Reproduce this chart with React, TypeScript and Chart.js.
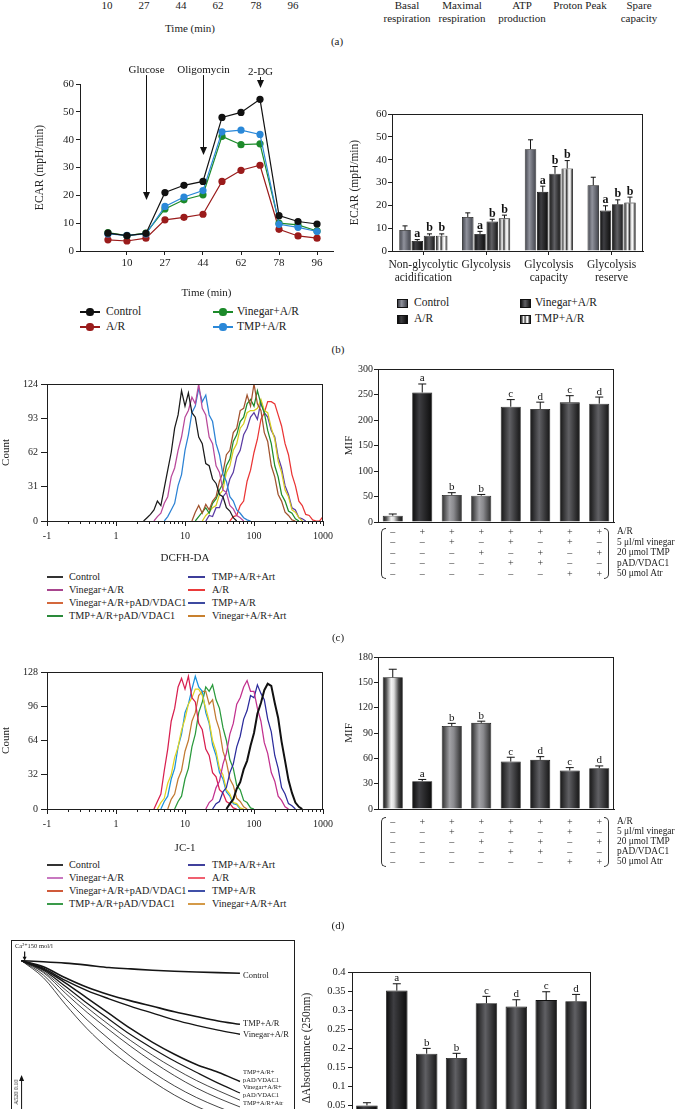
import React, { useEffect, useRef } from 'react';
import { Chart, registerables } from 'chart.js';
Chart.register(...registerables);

const FONT = "'Liberation Serif', 'DejaVu Serif', 'Times New Roman', serif";
const INK = '#1e1e1e';

// ---------- (a) cropped axis labels ----------
const A_TIME_TICKS = ['10', '27', '44', '62', '78', '96'];
const A_RESP_CATS = [['Basal', 'respiration'], ['Maximal', 'respiration'], ['ATP', 'production'], ['Proton Peak'], ['Spare', 'capacity']];

// ---------- (b) ECAR time course ----------
const ECAR_INDEX = [1, 2, 3, 4, 5, 6, 7, 8, 9, 10, 11, 12];
const ECAR_TICK_LABELS = ['10', '27', '44', '62', '78', '96'];
const ECAR_CONTROL = [6.4, 5.5, 6.3, 21.0, 23.6, 25.0, 48.0, 49.8, 54.5, 12.7, 10.6, 9.7];
const ECAR_AR = [4.0, 3.6, 4.6, 11.2, 12.1, 13.2, 25.0, 29.0, 30.8, 7.8, 5.4, 4.6];
const ECAR_VINEGAR = [6.6, 5.5, 6.4, 15.1, 18.4, 20.2, 41.2, 38.2, 38.5, 10.0, 9.4, 7.2];
const ECAR_TMP = [6.1, 5.6, 6.1, 16.0, 19.4, 21.7, 42.8, 43.4, 41.9, 9.6, 8.5, 7.0];
const INJ_LABELS = ['Glucose', 'Oligomycin', '2-DG'];
const INJ_AT = [3, 6, 9];
const INJ_TIP = [18.3, 34.5, 58.6];
const INJ_TOP = [63.2, 63.2, 62.5];

// ---------- (b) glycolysis bars ----------
const GLY_CATS = [['Non-glycolytic', 'acidification'], ['Glycolysis'], ['Glycolysis', 'capacity'], ['Glycolysis', 'reserve']];
const GLY_CONTROL = [9.2, 14.9, 44.6, 28.8];
const GLY_CONTROL_ERR = [11.0, 16.7, 48.7, 32.3];
const GLY_AR = [4.4, 7.5, 25.9, 17.7];
const GLY_AR_ERR = [5.0, 8.6, 28.4, 19.8];
const GLY_VIN = [6.7, 12.9, 33.8, 20.5];
const GLY_VIN_ERR = [7.5, 13.9, 37.0, 22.4];
const GLY_TMP = [6.7, 14.3, 36.1, 21.2];
const GLY_TMP_ERR = [7.5, 15.7, 39.6, 23.6];

// ---------- flow cytometry histograms ----------
const LOG_BINS = [2.51, 2.82, 3.16, 3.55, 3.98, 4.47, 5.01, 5.62, 6.31, 7.08, 7.94, 8.91, 10, 11.2, 12.6, 14.1, 15.8, 17.8, 20.0, 22.4, 25.1, 28.2, 31.6, 35.5, 39.8, 44.7, 50.1, 56.2, 63.1, 70.8, 79.4, 89.1, 100, 112, 126, 141, 158, 178, 200, 224, 251, 282, 316, 355, 398, 447, 501, 562, 631, 708, 794, 891, 1000];
const LOG_TICK_LABELS = ['-1', '1', '10', '100', '1000'];

const C_CONTROL = [0, 3, 6, 10, 18, 14, 30, 46, 62, 84, 96, 118, 104, 116, 98, 94, 76, 70, 52, 50, 38, 34, 24, 22, 12, 9, 3, 0];
const C_VIN = [0, 4, 7, 16, 22, 40, 48, 64, 76, 94, 100, 112, 106, 124, 102, 96, 76, 70, 50, 44, 28, 26, 14, 11, 5, 3, 0];
const C_TMP = [0, 4, 10, 16, 32, 42, 64, 78, 98, 104, 120, 108, 114, 96, 90, 70, 60, 42, 36, 22, 18, 10, 7, 3, 1, 0];
const C_VIN_PAD = [0, 8, 14, 7, 15, 10, 18, 22, 36, 44, 60, 64, 80, 84, 100, 102, 114, 104, 124, 106, 100, 80, 72, 50, 40, 24, 18, 8, 5, 1, 0];
const C_TMP_PAD = [0, 4, 8, 12, 7, 16, 20, 28, 34, 50, 56, 72, 78, 90, 94, 106, 110, 104, 118, 106, 98, 82, 70, 50, 40, 24, 18, 9, 7, 2, 0];
const C_VIN_ART = [0, 5, 8, 12, 14, 24, 28, 44, 50, 64, 70, 84, 88, 98, 100, 100, 102, 110, 100, 98, 84, 74, 54, 44, 28, 22, 10, 8, 3, 0];
const C_TMP_ART = [0, 5, 4, 12, 12, 22, 26, 38, 44, 58, 64, 78, 84, 94, 98, 92, 108, 98, 94, 82, 76, 58, 48, 32, 24, 12, 10, 3, 2, 0];
const C_AR = [0, 4, 5, 14, 18, 36, 46, 62, 74, 92, 98, 108, 108, 106, 96, 86, 70, 60, 42, 32, 18, 14, 6, 5, 1, 0, 0, 4];
const C_COUNTS = [C_CONTROL, C_VIN, C_TMP, C_VIN_PAD, C_TMP_PAD, C_VIN_ART, C_TMP_ART, C_AR];
const C_START_BIN = [0, 3, 6, 14, 15, 17, 18, 25];
const C_COLORS = ['#1a1a1a', '#b8489a', '#2c82d4', '#a0522d', '#1f8c2c', '#d6cc1e', '#5b3ca4', '#ea3535'];

const D_CONTROL = [0, 5, 9, 19, 25, 37, 45, 59, 71, 89, 99, 111, 117, 115, 99, 85, 63, 45, 27, 15, 6, 2, 0];
const D_VIN = [0, 6, 9, 20, 26, 42, 52, 70, 80, 98, 104, 114, 120, 110, 110, 94, 82, 62, 52, 34, 26, 12, 8, 2, 0];
const D_TMP = [0, 5, 7, 16, 20, 34, 42, 58, 68, 84, 92, 106, 104, 116, 108, 102, 84, 72, 50, 38, 20, 14, 5, 3, 0];
const D_AR = [0, 7, 14, 36, 56, 82, 94, 114, 122, 112, 124, 104, 100, 80, 74, 56, 50, 34, 30, 18, 15, 7, 5, 1, 0];
const D_VIN_ART = [0, 6, 10, 24, 32, 48, 58, 74, 84, 98, 104, 112, 112, 106, 94, 82, 64, 54, 38, 32, 18, 14, 6, 5, 1, 0];
const D_TMP_ART = [0, 7, 12, 28, 38, 58, 70, 90, 98, 112, 124, 114, 110, 90, 80, 60, 50, 34, 28, 16, 12, 5, 4, 0];
const D_VIN_PAD = [0, 9, 14, 28, 36, 54, 64, 82, 90, 106, 110, 110, 98, 102, 84, 74, 54, 44, 28, 22, 10, 7, 2, 0];
const D_TMP_PAD = [0, 7, 12, 28, 38, 58, 70, 90, 100, 114, 110, 116, 102, 94, 76, 64, 46, 38, 22, 18, 8, 6, 1, 0];
const D_COUNTS = [D_CONTROL, D_VIN, D_TMP, D_AR, D_VIN_ART, D_TMP_ART, D_VIN_PAD, D_TMP_PAD];
const D_START_BIN = [24, 18, 20, 3, 4, 5, 7, 9];
const D_COLORS = ['#111111', '#c2308e', '#2b2b9c', '#d81f4f', '#e2d420', '#1a92dc', '#c27a32', '#2a9a3c'];

const LEGEND_COL1 = ['Control', 'Vinegar+A/R', 'Vinegar+A/R+pAD/VDAC1', 'TMP+A/R+pAD/VDAC1'];
const LEGEND_COL2 = ['TMP+A/R+Art', 'A/R', 'TMP+A/R', 'Vinegar+A/R+Art'];
const C_KEY1 = ['#333', '#a8458e', '#d4683c', '#2a8a3a'];
const C_KEY2 = ['#3d3d9a', '#ea3a3a', '#3d4aa0', '#c8802e'];
const D_KEY1 = ['#333', '#c878c0', '#d05a3a', '#3a9a4a'];
const D_KEY2 = ['#40409c', '#f06070', '#4050a8', '#d49a48'];

// ---------- treatment table ----------
const TR_AR = ['–', '+', '+', '+', '+', '+', '+', '+'];
const TR_VIN = ['–', '–', '+', '–', '+', '–', '+', '–'];
const TR_TMP = ['–', '–', '–', '+', '–', '+', '–', '+'];
const TR_PAD = ['–', '–', '–', '–', '+', '+', '–', '–'];
const TR_ATR = ['–', '–', '–', '–', '–', '–', '+', '+'];
const TR_ROWS = ['A/R', '5 μl/ml vinegar', '20 μmol TMP', 'pAD/VDAC1', '50 μmol Atr'];
const LETTERS8 = ['', 'a', 'b', 'b', 'c', 'd', 'c', 'd'];

const ROS_MIF = [12.4, 254, 53, 51.6, 226, 221.6, 234.6, 232];
const ROS_ERR = [15.7, 270.6, 57.5, 54, 240, 235, 247.7, 245];
const JC1_MIF = [156, 33, 98.3, 102, 56.2, 58.2, 45.6, 48.3];
const JC1_ERR = [165.5, 35, 101.4, 104, 61.3, 62, 49, 51];
const SWELL = [0.049, 0.351, 0.185, 0.174, 0.318, 0.309, 0.326, 0.323];
const SWELL_ERR = [0.056, 0.369, 0.199, 0.186, 0.336, 0.327, 0.348, 0.341];

// ---------- (e) swelling traces ----------
const TRACE_TIME = [0, 10, 20, 30, 40, 50, 60, 70, 80, 90, 100];
const TRACE_CONTROL = [1.0, 0.997, 0.993, 0.987, 0.98, 0.976, 0.972, 0.969, 0.967, 0.965, 0.963];
const TRACE_TMP = [1.0, 0.982, 0.95, 0.922, 0.9, 0.882, 0.866, 0.85, 0.836, 0.823, 0.813];
const TRACE_VIN = [1.0, 0.978, 0.942, 0.912, 0.888, 0.866, 0.846, 0.826, 0.81, 0.796, 0.784];
const TRACE_TMP_PAD = [1.0, 0.975, 0.935, 0.89, 0.845, 0.8, 0.76, 0.725, 0.695, 0.672, 0.645];
const TRACE_VIN_PAD = [1.0, 0.972, 0.925, 0.875, 0.828, 0.782, 0.742, 0.705, 0.672, 0.64, 0.611];
const TRACE_TMP_ATR = [1.0, 0.968, 0.915, 0.862, 0.812, 0.765, 0.722, 0.683, 0.648, 0.618, 0.59];
const TRACE_VIN_ATR = [1.0, 0.965, 0.905, 0.848, 0.797, 0.748, 0.703, 0.662, 0.626, 0.596, 0.57];
const TRACE_AR = [1.0, 0.958, 0.89, 0.826, 0.77, 0.718, 0.672, 0.632, 0.598, 0.57, 0.545];
const TRACE_X6 = [1.0, 0.95, 0.872, 0.8, 0.74, 0.69, 0.645, 0.605, 0.572, 0.545, 0.52];
const TRACE_SETS = [TRACE_CONTROL, TRACE_TMP, TRACE_VIN, TRACE_TMP_PAD, TRACE_VIN_PAD, TRACE_TMP_ATR, TRACE_VIN_ATR, TRACE_AR, TRACE_X6];
const TRACE_WIDTHS = [1.6, 1.6, 1.4, 1.5, 1.2, 0.8, 0.8, 0.8, 0.8];
const CA_ARROW = [1.4, 1.027, 1.0];
const SCALE_BAR = [0, 0.564, 0.664];

// ---------- helpers ----------
const GRADS: any = {
  light: [[0, '#111'], [0.18, '#555'], [0.42, '#f4f4f4'], [0.56, '#dedede'], [0.8, '#444'], [1, '#0e0e0e']],
  dark: [[0, '#0b0b0b'], [0.35, '#3e3e42'], [0.6, '#2a2a2c'], [1, '#0b0b0b']],
  gray: [[0, '#2a2a2a'], [0.4, '#a2a2a6'], [0.6, '#8a8a8e'], [1, '#2a2a2a']],
  mid: [[0, '#3e4048'], [0.4, '#90929c'], [1, '#3e4048']],
  dgray: [[0, '#141414'], [0.45, '#606064'], [1, '#141414']],
  stripe: [[0, '#222'], [0.15, '#777'], [0.3, '#fff'], [0.45, '#333'], [0.6, '#ddd'], [0.75, '#fff'], [0.9, '#555'], [1, '#222']],
};
const cssGrad = (n: string) => `linear-gradient(to right, ${GRADS[n].map((s: any) => `${s[1]} ${s[0] * 100}%`).join(',')})`;

const f = (size: number, extra: any = {}) => ({ family: FONT, size, ...extra });
const fixed = (size: number, horizontal: boolean) => (s: any) => {
  if (horizontal) s.height = size; else s.width = size;
  s.paddingLeft = 0; s.paddingRight = 0; s.paddingTop = 0; s.paddingBottom = 0;
};
const base = (padding: any) => ({
  responsive: false, animation: false, devicePixelRatio: 1,
  layout: { padding, autoPadding: false },
  plugins: { legend: { display: false }, tooltip: { enabled: false } },
});

const gradientPlugin = {
  id: 'barGradients',
  beforeDatasetsDraw(chart: any) {
    const { ctx } = chart;
    chart.data.datasets.forEach((ds: any, di: number) => {
      if (!ds.grad) return;
      chart.getDatasetMeta(di).data.forEach((el: any, i: number) => {
        const name = Array.isArray(ds.grad) ? ds.grad[i] : ds.grad;
        const g = ctx.createLinearGradient(el.x - el.width / 2, 0, el.x + el.width / 2, 0);
        GRADS[name].forEach((s: any) => g.addColorStop(s[0], s[1]));
        try { el.options.backgroundColor = g; } catch (e) { /* ignore */ }
      });
    });
  },
};
const errorBarPlugin = {
  id: 'errorBars',
  afterDatasetsDraw(chart: any) {
    const { ctx } = chart;
    const y = chart.scales.y;
    chart.data.datasets.forEach((ds: any, di: number) => {
      if (!ds.err) return;
      chart.getDatasetMeta(di).data.forEach((el: any, i: number) => {
        const top = y.getPixelForValue(ds.err[i]);
        const cap = Math.min(4, el.width * 0.22);
        ctx.save();
        ctx.strokeStyle = '#111'; ctx.lineWidth = 1;
        ctx.beginPath();
        ctx.moveTo(el.x, el.y); ctx.lineTo(el.x, top);
        ctx.moveTo(el.x - cap, top); ctx.lineTo(el.x + cap, top);
        ctx.stroke();
        const letter = ds.letters && ds.letters[i];
        if (letter) {
          ctx.fillStyle = '#111'; ctx.font = ds.letterFont || `11px ${FONT}`;
          ctx.textAlign = 'center'; ctx.textBaseline = 'alphabetic';
          ctx.fillText(letter, el.x, top - 2.5);
        }
        ctx.restore();
      });
    });
  },
};
const framePlugin = {
  id: 'frame',
  afterDatasetsDraw(chart: any) {
    const { ctx, chartArea: a } = chart;
    ctx.save(); ctx.strokeStyle = INK; ctx.lineWidth = 1;
    ctx.strokeRect(Math.round(a.left) + 0.5, Math.round(a.top) + 0.5, Math.round(a.right - a.left) - 1, Math.round(a.bottom - a.top));
    ctx.restore();
  },
};
const logMinorPlugin = {
  id: 'logMinor',
  afterDraw(chart: any) {
    const { ctx } = chart; const x = chart.scales.x; const b = chart.chartArea.bottom;
    ctx.save(); ctx.strokeStyle = INK; ctx.lineWidth = 1; ctx.beginPath();
    [0.1, 1, 10, 100].forEach((d) => {
      for (let m = 2; m < 10; m++) {
        const px = Math.round(x.getPixelForValue(m * d)) + 0.5;
        ctx.moveTo(px, b); ctx.lineTo(px, b + 3);
      }
    });
    ctx.stroke(); ctx.restore();
  },
};
const injectionPlugin = {
  id: 'injections',
  afterDatasetsDraw(chart: any) {
    const { ctx } = chart; const { x, y } = chart.scales;
    ctx.save(); ctx.strokeStyle = '#111'; ctx.fillStyle = '#111'; ctx.lineWidth = 1;
    ctx.font = `11px ${FONT}`; ctx.textAlign = 'center'; ctx.textBaseline = 'middle';
    INJ_AT.forEach((ax, i) => {
      const px = Math.round(x.getPixelForValue(ax)) + 0.5;
      const top = y.getPixelForValue(INJ_TOP[i]);
      const tip = y.getPixelForValue(INJ_TIP[i]);
      ctx.beginPath(); ctx.moveTo(px, top); ctx.lineTo(px, tip - 6); ctx.stroke();
      ctx.beginPath(); ctx.moveTo(px - 3.5, tip - 8); ctx.lineTo(px + 3.5, tip - 8); ctx.lineTo(px, tip); ctx.closePath(); ctx.fill();
      ctx.fillText(INJ_LABELS[i], px, top - 5);
    });
    ctx.restore();
  },
};
const traceMarksPlugin = {
  id: 'traceMarks',
  afterDatasetsDraw(chart: any) {
    const { ctx } = chart; const { x, y } = chart.scales;
    ctx.save(); ctx.strokeStyle = '#111'; ctx.fillStyle = '#111'; ctx.lineWidth = 1.2;
    const ax = x.getPixelForValue(CA_ARROW[0]);
    const a0 = y.getPixelForValue(CA_ARROW[1]); const a1 = y.getPixelForValue(CA_ARROW[2]);
    ctx.beginPath(); ctx.moveTo(ax, a0); ctx.lineTo(ax, a1 - 3); ctx.stroke();
    ctx.beginPath(); ctx.moveTo(ax - 2, a1 - 4); ctx.lineTo(ax + 2, a1 - 4); ctx.lineTo(ax, a1); ctx.closePath(); ctx.fill();
    const sx = x.getPixelForValue(SCALE_BAR[0]);
    const s0 = y.getPixelForValue(SCALE_BAR[1]); const s1 = y.getPixelForValue(SCALE_BAR[2]);
    ctx.lineWidth = 1;
    ctx.beginPath(); ctx.moveTo(sx, s0); ctx.lineTo(sx, s1 + 4); ctx.stroke();
    ctx.beginPath(); ctx.moveTo(sx - 2.5, s1 + 6); ctx.lineTo(sx + 2.5, s1 + 6); ctx.lineTo(sx, s1); ctx.closePath(); ctx.fill();
    ctx.restore();
  },
};

// ---------- chart configs ----------
function ecarLineConfig() {
  const mk = (label: string, vals: number[], color: string) => ({
    label, data: ECAR_INDEX.map((x, i) => ({ x, y: vals[i] })),
    borderColor: color, backgroundColor: color, pointBackgroundColor: color, pointBorderWidth: 0,
    pointRadius: 3.6, borderWidth: 1.2, tension: 0,
  });
  return {
    type: 'line',
    data: { datasets: [mk('Control', ECAR_CONTROL, '#111111'), mk('TMP+A/R', ECAR_TMP, '#2a88d8'), mk('Vinegar+A/R', ECAR_VINEGAR, '#1c8a2a'), mk('A/R', ECAR_AR, '#9a1b1b')] },
    options: {
      ...base({ left: 0, right: 7, top: 24, bottom: 0 }),
      scales: {
        x: {
          type: 'linear', min: -0.47, max: 12.84,
          afterBuildTicks: (s: any) => { s.ticks = [2, 4, 6, 8, 10, 12].map((v) => ({ value: v })); },
          ticks: { callback: (v: number) => ECAR_TICK_LABELS[Math.round(v) / 2 - 1] || '', font: f(11), color: '#222', padding: 2, maxRotation: 0, autoSkip: false },
          grid: { display: true, drawOnChartArea: false, tickLength: 4, color: INK },
          border: { color: INK },
          title: { display: true, text: 'Time (min)', font: f(11), color: '#222', padding: { top: 4.4, bottom: 0 } },
          afterFit: fixed(49, true),
        },
        y: {
          min: 0, max: 60,
          ticks: { stepSize: 10, font: f(11), color: '#222', padding: 2 },
          grid: { display: true, drawOnChartArea: false, tickLength: 4, color: INK },
          border: { color: INK },
          title: { display: true, text: 'ECAR (mpH/min)', font: f(11.5), color: '#222', padding: { top: 13.1, bottom: 0 } },
          afterFit: fixed(60, false),
        },
      },
    },
    plugins: [injectionPlugin],
  };
}

function glycoBarConfig() {
  const mk = (label: string, vals: number[], err: number[], grad: string, letters: string[]) => ({
    label, data: vals, err, grad, letters, letterFont: `bold 12px ${FONT}`,
    backgroundColor: () => '#333', borderColor: '#111', borderWidth: 0.8,
    categoryPercentage: 0.78, barPercentage: 0.94,
  });
  return {
    type: 'bar',
    data: {
      labels: GLY_CATS,
      datasets: [
        mk('Control', GLY_CONTROL, GLY_CONTROL_ERR, 'mid', ['', '', '', '']),
        mk('A/R', GLY_AR, GLY_AR_ERR, 'dark', ['a', 'a', 'a', 'a']),
        mk('Vinegar+A/R', GLY_VIN, GLY_VIN_ERR, 'dgray', ['b', 'b', 'b', 'b']),
        mk('TMP+A/R', GLY_TMP, GLY_TMP_ERR, 'stripe', ['b', 'b', 'b', 'b']),
      ],
    },
    options: {
      ...base({ left: 0, right: 7, top: 14, bottom: 0 }),
      scales: {
        x: {
          ticks: { font: f(11.5, { lineHeight: '13px' }), color: '#222', padding: 3, maxRotation: 0, autoSkip: false },
          grid: { display: true, drawOnChartArea: false, tickLength: 4, color: INK, offset: false },
          border: { color: INK },
          afterFit: fixed(39, true),
        },
        y: {
          min: 0, max: 60,
          ticks: { stepSize: 10, font: f(11), color: '#222', padding: 1 },
          grid: { display: true, drawOnChartArea: false, tickLength: 4, color: INK },
          border: { color: INK },
          title: { display: true, text: 'ECAR (mpH/min)', font: f(11.5), color: '#222', padding: { top: 8.1, bottom: 0 } },
          afterFit: fixed(52, false),
        },
      },
    },
    plugins: [gradientPlugin, errorBarPlugin, framePlugin],
  };
}

function histConfig(counts: number[][], starts: number[], colors: string[], ymax: number, step: number, title: string, xh: number, titlePad: number) {
  return {
    type: 'line',
    data: {
      datasets: counts.map((vals, k) => ({
        data: vals.map((v, j) => ({ x: LOG_BINS[starts[k] + j], y: v })),
        borderColor: colors[k], borderWidth: k === 0 && colors[k] === '#111111' ? 2 : 1.25,
        pointRadius: 0, tension: 0, fill: false,
      })),
    },
    options: {
      ...base({ left: 0, right: 12, top: 10, bottom: 0 }),
      scales: {
        x: {
          type: 'logarithmic', min: 0.1, max: 1000,
          afterBuildTicks: (s: any) => { s.ticks = [0.1, 1, 10, 100, 1000].map((v) => ({ value: v })); },
          ticks: { callback: (v: number) => LOG_TICK_LABELS[Math.round(Math.log10(v)) + 1], font: f(10), color: '#222', padding: 4, maxRotation: 0, autoSkip: false },
          grid: { display: true, drawOnChartArea: false, tickLength: 5, color: INK },
          border: { color: INK },
          title: { display: true, text: title, font: f(11), color: '#222', padding: { top: titlePad, bottom: 0 } },
          afterFit: fixed(xh, true),
        },
        y: {
          min: 0, max: ymax,
          ticks: { stepSize: step, font: f(10), color: '#222', padding: 3 },
          grid: { display: true, drawOnChartArea: false, tickLength: 6, color: INK },
          border: { color: INK },
          title: { display: true, text: 'Count', font: f(11), color: '#222', padding: { top: 0, bottom: 0 } },
          afterFit: fixed(47, false),
        },
      },
    },
    plugins: [framePlugin, logMinorPlugin],
  };
}

function treatmentBarConfig(vals: number[], err: number[], grads: string[], ymax: number, step: number, yTitle: string, o: any) {
  return {
    type: 'bar',
    data: {
      labels: vals.map((_, i) => [TR_AR[i], TR_VIN[i], TR_TMP[i], TR_PAD[i], TR_ATR[i]]),
      datasets: [{
        data: vals, err, letters: LETTERS8, grad: grads,
        backgroundColor: () => '#333', borderColor: '#111', borderWidth: 0.8,
        categoryPercentage: 1, barPercentage: o.barPct,
      }],
    },
    options: {
      ...base({ left: 0, right: o.pr, top: o.pt, bottom: 0 }),
      scales: {
        x: {
          ticks: { font: f(10, { lineHeight: o.lh }), color: '#333', padding: o.xpad, maxRotation: 0, autoSkip: false },
          grid: { display: false, drawTicks: false, tickLength: 0 },
          border: { display: true, color: INK },
          afterFit: fixed(o.xh, true),
        },
        y: {
          min: 0, max: ymax,
          ticks: { stepSize: step, font: f(o.tickSize || 10), color: '#222', padding: o.ypad, callback: o.ycb },
          grid: { display: true, drawOnChartArea: false, tickLength: 4, color: INK },
          border: { color: INK },
          title: { display: true, text: yTitle, font: f(o.titleSize || 11), color: '#222', padding: { top: o.titlePad, bottom: 0 } },
          afterFit: fixed(o.yw, false),
        },
      },
    },
    plugins: [gradientPlugin, errorBarPlugin, framePlugin],
  };
}

function traceConfig() {
  return {
    type: 'line',
    data: {
      datasets: TRACE_SETS.map((vals, k) => ({
        data: TRACE_TIME.map((t, i) => ({ x: t, y: vals[i] })),
        borderColor: '#151515', borderWidth: TRACE_WIDTHS[k], pointRadius: 0,
        tension: 0.35, cubicInterpolationMode: 'monotone', fill: false,
      })),
    },
    options: {
      ...base({ left: 0, right: 0, top: 0, bottom: 0 }),
      scales: {
        x: { type: 'linear', min: -4.85, max: 125.2, display: false },
        y: { min: 0.4434, max: 1.061, display: false },
      },
    },
    plugins: [framePlugin, traceMarksPlugin],
  };
}

// ---------- components ----------
function ChartCanvas({ left, top, width, height, make }: any) {
  const ref = useRef<HTMLCanvasElement>(null);
  useEffect(() => {
    const chart = new Chart(ref.current as any, make());
    return () => chart.destroy();
  }, []);
  return (
    <div style={{ position: 'absolute', left, top, width, height }}>
      <canvas ref={ref} width={width} height={height} style={{ display: 'block', width, height }} />
    </div>
  );
}

function T({ x, y, children, size = 11, align = 'center', style = {} }: any) {
  const tx = align === 'center' ? '-50%' : align === 'right' ? '-100%' : '0';
  return (
    <div style={{ position: 'absolute', left: x, top: y, transform: `translate(${tx}, -50%)`, fontSize: size, lineHeight: 1, whiteSpace: 'nowrap', fontFamily: FONT, color: '#222', ...style }}>
      {children}
    </div>
  );
}

function Key({ x1, x2, y, color, thick = 1.5, dot = false }: any) {
  return (
    <>
      <div style={{ position: 'absolute', left: x1, top: y - thick / 2, width: x2 - x1, height: thick, background: color }} />
      {dot && <div style={{ position: 'absolute', left: (x1 + x2) / 2 - 3.6, top: y - 3.6, width: 7.2, height: 7.2, borderRadius: '50%', background: color }} />}
    </>
  );
}

function Swatch({ x, y, grad }: any) {
  return <div style={{ position: 'absolute', left: x, top: y - 4.5, width: 11, height: 9, background: cssGrad(grad), boxSizing: 'border-box', border: '0.5px solid #111' }} />;
}

function Bracket({ x, top, height, side }: any) {
  const left = side === 'left';
  return (
    <div style={{
      position: 'absolute', left: x, top, width: 5, height, boxSizing: 'border-box',
      borderTop: '1px solid #333', borderBottom: '1px solid #333',
      borderLeft: left ? '1px solid #333' : 'none', borderRight: left ? 'none' : '1px solid #333',
      borderRadius: left ? '6px 0 0 6px' : '0 6px 6px 0',
    }} />
  );
}

function HistLegend({ rows, k1, k2 }: any) {
  return (
    <>
      {LEGEND_COL1.map((t, i) => (
        <React.Fragment key={'a' + i}>
          <Key x1={47} x2={63} y={rows[i]} color={k1[i]} />
          <T x={69} y={rows[i]} size={10.2} align="left">{t}</T>
        </React.Fragment>
      ))}
      {LEGEND_COL2.map((t, i) => (
        <React.Fragment key={'b' + i}>
          <Key x1={188} x2={205} y={rows[i]} color={k2[i]} />
          <T x={212} y={rows[i]} size={10.2} align="left">{t}</T>
        </React.Fragment>
      ))}
    </>
  );
}

function TableRows({ rows }: any) {
  return <>{TR_ROWS.map((t, i) => <T key={i} x={617} y={rows[i]} size={9.4} align="left">{t}</T>)}</>;
}

export default function App() {
  const aTickX = [107, 144, 181, 218, 256, 293];
  const aCatX = [407, 462, 522, 580, 639];
  return (
    <div style={{ position: 'absolute', left: 0, top: 0, width: 677, height: 1109, overflow: 'hidden', background: '#fff', fontFamily: FONT }}>
      {/* (a) remnant */}
      {A_TIME_TICKS.map((t, i) => <T key={t} x={aTickX[i]} y={5} size={11}>{t}</T>)}
      <T x={190} y={28} size={11}>Time (min)</T>
      {A_RESP_CATS.map((lines, i) => lines.map((l, j) => <T key={i + '-' + j} x={aCatX[i]} y={5 + j * 13} size={11}>{l}</T>))}
      <T x={337} y={41} size={11}>(a)</T>

      {/* (b) */}
      <ChartCanvas left={20} top={60} width={320} height={240} make={ecarLineConfig} />
      <ChartCanvas left={340} top={100} width={310} height={190} make={glycoBarConfig} />
      <Key x1={80} x2={100} y={312} color="#111" thick={1.2} dot />
      <T x={106} y={312} size={11.5} align="left">Control</T>
      <Key x1={80} x2={100} y={327} color="#9a1b1b" thick={1.2} dot />
      <T x={106} y={327} size={11.5} align="left">A/R</T>
      <Key x1={213} x2={233} y={312} color="#1c8a2a" thick={1.2} dot />
      <T x={237} y={312} size={11.5} align="left">Vinegar+A/R</T>
      <Key x1={213} x2={233} y={327} color="#2a88d8" thick={1.2} dot />
      <T x={237} y={327} size={11.5} align="left">TMP+A/R</T>
      <Swatch x={397} y={303} grad="mid" />
      <T x={414} y={303} size={11.5} align="left">Control</T>
      <Swatch x={397} y={319} grad="dark" />
      <T x={414} y={319} size={11.5} align="left">A/R</T>
      <Swatch x={520} y={303} grad="dgray" />
      <T x={535} y={303} size={11.5} align="left">Vinegar+A/R</T>
      <Swatch x={520} y={319} grad="stripe" />
      <T x={535} y={319} size={11.5} align="left">TMP+A/R</T>
      <T x={338} y={349} size={11}>(b)</T>

      {/* (c) */}
      <ChartCanvas left={0} top={374} width={335} height={191}
        make={() => histConfig(C_COUNTS, C_START_BIN, C_COLORS, 124, 31, 'DCFH-DA', 44, 1.4)} />
      <HistLegend rows={[577, 590, 603, 616]} k1={C_KEY1} k2={C_KEY2} />
      <ChartCanvas left={340} top={360} width={280} height={225}
        make={() => treatmentBarConfig(ROS_MIF, ROS_ERR, ['light', 'dark', 'gray', 'gray', 'dgray', 'dgray', 'dgray', 'dgray'], 300, 50, 'MIF',
          { barPct: 0.68, pr: 6, pt: 9, lh: '10.5px', xpad: 5, xh: 63, ypad: 1, titlePad: 2.4, yw: 38 })} />
      <Bracket x={381} top={528} height={51} side="left" />
      <Bracket x={604} top={528} height={51} side="right" />
      <TableRows rows={[532.3, 542.8, 553.3, 563.8, 574.3]} />
      <T x={338} y={637} size={11}>(c)</T>

      {/* (d) */}
      <ChartCanvas left={0} top={662} width={335} height={193}
        make={() => histConfig(D_COUNTS, D_START_BIN, D_COLORS, 128, 32, 'JC-1', 46, 3.4)} />
      <HistLegend rows={[865, 878, 891, 904]} k1={D_KEY1} k2={D_KEY2} />
      <ChartCanvas left={340} top={648} width={280} height={225}
        make={() => treatmentBarConfig(JC1_MIF, JC1_ERR, ['light', 'dark', 'gray', 'gray', 'dgray', 'dgray', 'dgray', 'dgray'], 180, 30, 'MIF',
          { barPct: 0.68, pr: 6, pt: 9, lh: '10px', xpad: 8.3, xh: 64, ypad: 1, titlePad: 2.4, yw: 38 })} />
      <Bracket x={381} top={817} height={50} side="left" />
      <Bracket x={604} top={817} height={50} side="right" />
      <TableRows rows={[822.3, 832.3, 842.3, 852.3, 862.3]} />
      <T x={338} y={925} size={11}>(d)</T>

      {/* (e) */}
      <ChartCanvas left={11} top={940} width={284} height={210} make={traceConfig} />
      <T x={15} y={946} size={6.5} align="left">Ca²⁺150 mol/l</T>
      <T x={243} y={975} size={8.5} align="left">Control</T>
      <T x={243} y={1023} size={8.5} align="left">TMP+A/R</T>
      <T x={243} y={1034} size={8.5} align="left">Vinegar+A/R</T>
      <T x={243} y={1072} size={6.5} align="left">TMP+A/R+</T>
      <T x={243} y={1079.5} size={6.5} align="left">pAD/VDAC1</T>
      <T x={243} y={1087} size={6.5} align="left">Vinegar+A/R+</T>
      <T x={243} y={1095} size={6.5} align="left">pAD/VDAC1</T>
      <T x={243} y={1103} size={6.5} align="left">TMP+A/R+Atr</T>
      <T x={16} y={1092} size={6} style={{ transform: 'translate(-50%, -50%) rotate(-90deg)' }}>A520 0.10</T>
      <ChartCanvas left={295} top={962} width={303} height={230}
        make={() => treatmentBarConfig(SWELL, SWELL_ERR, ['dark', 'dark', 'dgray', 'dgray', 'dgray', 'dgray', 'dgray', 'dgray'], 0.4, 0.05, 'ΔAbsorbannce (250nm)',
          { barPct: 0.72, pr: 7, pt: 10, lh: '10px', xpad: 8, xh: 68, ypad: 2.5, titlePad: 4.7, yw: 57, tickSize: 10.5, titleSize: 11.5,
            ycb: (v: number) => (v === 0 ? '0' : String(Math.round(v * 100) / 100)) })} />
    </div>
  );
}
